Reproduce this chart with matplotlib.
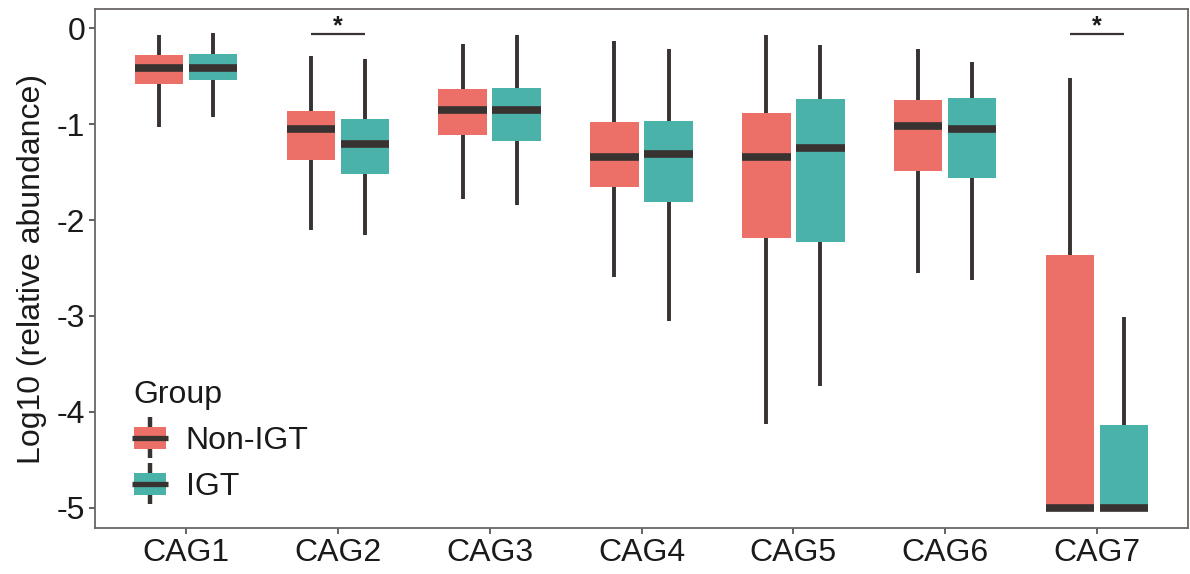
import matplotlib as mpl
mpl.use('Agg')
import matplotlib.pyplot as plt
from matplotlib.patches import Rectangle
from matplotlib.lines import Line2D
from matplotlib.legend_handler import HandlerBase

plt.rcParams['font.family'] = ['Liberation Sans', 'DejaVu Sans']

cags = ['CAG1', 'CAG2', 'CAG3', 'CAG4', 'CAG5', 'CAG6', 'CAG7']
groups = ['Non-IGT', 'IGT']

# box summary (log10 relative abundance)
non_igt_whislo = [-1.03, -2.10, -1.78, -2.59, -4.13, -2.55, -5.0]
non_igt_q1     = [-0.58, -1.37, -1.11, -1.66, -2.19, -1.49, -5.0]
non_igt_med    = [-0.41, -1.055, -0.85, -1.34, -1.34, -1.02, -5.0]
non_igt_q3     = [-0.28, -0.86, -0.63, -0.98, -0.88, -0.75, -2.36]
non_igt_whishi = [-0.066, -0.29, -0.16, -0.13, -0.07, -0.22, -0.52]

igt_whislo = [-0.93, -2.16, -1.84, -3.05, -3.73, -2.63, -5.0]
igt_q1     = [-0.54, -1.52, -1.18, -1.81, -2.23, -1.56, -5.0]
igt_med    = [-0.41, -1.205, -0.855, -1.31, -1.25, -1.05, -5.0]
igt_q3     = [-0.27, -0.95, -0.62, -0.97, -0.74, -0.73, -4.14]
igt_whishi = [-0.045, -0.32, -0.066, -0.22, -0.18, -0.35, -3.01]

sig_cags = ['CAG2', 'CAG7']
sig_labels = ['*', '*']
sig_y = -0.06

colors = ['#EC7068', '#4BB2AA']
dark = '#383230'
fs = 23


def make_stats(lo, q1, med, q3, hi):
    return [dict(whislo=a, q1=b, med=c, q3=d, whishi=e, fliers=[])
            for a, b, c, d, e in zip(lo, q1, med, q3, hi)]


class BoxKey(HandlerBase):
    def create_artists(self, legend, orig_handle, xdescent, ydescent,
                       width, height, fontsize, trans):
        x0, y0 = -xdescent, -ydescent
        fc = orig_handle.get_facecolor()
        wl = Line2D([x0 + width / 2] * 2, [y0 - 0.43 * height, y0 + 1.43 * height],
                    color=dark, lw=3.2, solid_capstyle='butt', transform=trans)
        box = Rectangle((x0, y0), width, height, facecolor=fc,
                        edgecolor='none', transform=trans)
        med = Line2D([x0 - 1, x0 + width + 1], [y0 + height / 2] * 2, color=dark,
                     lw=3.8, solid_capstyle='butt', transform=trans)
        return [wl, box, med]


fig = plt.figure(figsize=(11.9, 5.74), dpi=100)
ax = fig.add_axes([95 / 1190, 1 - 528 / 574, (1188 - 95) / 1190, (528 - 9) / 574])

pos = list(range(1, len(cags) + 1))
offset = 0.178
bw = 0.32
series = [
    make_stats(non_igt_whislo, non_igt_q1, non_igt_med, non_igt_q3, non_igt_whishi),
    make_stats(igt_whislo, igt_q1, igt_med, igt_q3, igt_whishi),
]
for k, stats in enumerate(series):
    p = [x + (2 * k - 1) * offset for x in pos]
    ax.bxp(stats, positions=p, widths=bw, patch_artist=True, showcaps=False,
           showfliers=False, manage_ticks=False,
           boxprops=dict(facecolor=colors[k], edgecolor='none', linewidth=0),
           whiskerprops=dict(color=dark, linewidth=2.8, solid_capstyle='butt'),
           medianprops=dict(color=dark, linewidth=5.5, solid_capstyle='butt', zorder=3))

for name, lab in zip(sig_cags, sig_labels):
    c = pos[cags.index(name)]
    ax.plot([c - offset, c + offset], [sig_y, sig_y], color=dark, lw=1.6,
            solid_capstyle='butt')
    ax.text(c, sig_y + 0.01, lab, ha='center', va='baseline', fontsize=18,
            fontweight='bold', color='#1a1a1a')

ax.set_xlim(0.4, 7.6)
ax.set_ylim(-5.21, 0.2)
ax.set_xticks(pos)
ax.set_xticklabels(cags)
ax.set_yticks([0, -1, -2, -3, -4, -5])
ax.set_yticklabels(['0', '-1', '-2', '-3', '-4', '-5'])
ax.tick_params(labelsize=fs, colors='#555555', labelcolor='#1a1a1a',
               length=4, width=1.3, pad=3)
for s in ax.spines.values():
    s.set_color('#6a6664')
    s.set_linewidth(1.3)
ax.set_ylabel('Log10 (relative abundance)', fontsize=fs, color='#1a1a1a', labelpad=7)

handles = [Rectangle((0, 0), 1, 1, facecolor=c) for c in colors]
leg = ax.legend(handles, groups, title='Group', loc='lower left',
                bbox_to_anchor=(0.009, -0.005), frameon=False, fontsize=fs,
                title_fontsize=fs, handler_map={Rectangle: BoxKey()},
                handlelength=1.03, handleheight=0.68, labelspacing=0.5,
                handletextpad=0.6, alignment='left')
for t in leg.get_texts():
    t.set_color('#1a1a1a')
leg.get_title().set_color('#1a1a1a')

fig.savefig('out.png', dpi=100)
